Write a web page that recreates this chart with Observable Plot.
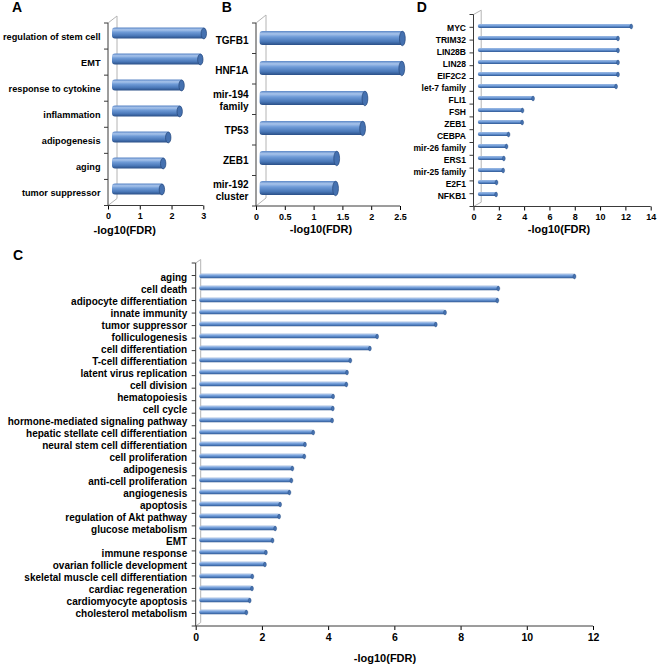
<!DOCTYPE html>
<html><head><meta charset="utf-8">
<script src="https://cdn.jsdelivr.net/npm/d3@7"></script>
<script src="https://cdn.jsdelivr.net/npm/@observablehq/plot@0.6"></script>
<style>
body{margin:0;background:#fff;}
#root{position:relative;width:658px;height:664px;overflow:hidden;font-family:'Liberation Sans',Arial,sans-serif;font-weight:bold;color:#000;}
.panel{position:absolute;}
.panel svg{overflow:visible;}
.lbl{position:absolute;font-size:14px;line-height:14px;}
.ttl{position:absolute;font-size:11px;line-height:11px;transform:translate(-50%,-50%);white-space:nowrap;}
</style></head><body><div id="root"></div>
<script>
// ---- Panel A ----
const aCategories = ["regulation of stem cell","EMT","response to cytokine","inflammation","adipogenesis","aging","tumor suppressor"];
const aValues = [2.96,2.85,2.26,2.20,1.84,1.68,1.64];
const aTicks = [0,1,2,3];
// ---- Panel B ----
const bCategories = ["TGFB1","HNF1A","mir-194\nfamily","TP53","ZEB1","mir-192\ncluster"];
const bValues = [2.52,2.51,1.87,1.83,1.38,1.36];
const bTicks = [0,0.5,1,1.5,2,2.5];
// ---- Panel D ----
const dCategories = ["MYC","TRIM32","LIN28B","LIN28","EIF2C2","let-7 family","FLI1","FSH","ZEB1","CEBPA","mir-26 family","ERS1","mir-25 family","E2F1","NFKB1"];
const dValues = [12.2,11.15,11.15,11.15,11.15,11.0,4.44,3.6,3.58,2.5,2.34,2.13,2.08,1.55,1.52];
const dTicks = [0,2,4,6,8,10,12,14];
// ---- Panel C ----
const cCategories = ["aging","cell death","adipocyte differentiation","innate immunity","tumor suppressor","folliculogenesis","cell differentiation","T-cell differentiation","latent virus replication","cell division","hematopoiesis","cell cycle","hormone-mediated signaling pathway","hepatic stellate cell differentiation","neural stem cell differentiation","cell proliferation","adipogenesis","anti-cell proliferation","angiogenesis","apoptosis","regulation of Akt pathway","glucose metabolism","EMT","immune response","ovarian follicle development","skeletal muscle cell differentiation","cardiac regeneration","cardiomyocyte apoptosis","cholesterol metabolism"];
const cValues = [11.36,9.06,9.03,7.45,7.17,5.40,5.18,4.59,4.49,4.47,4.07,4.06,4.04,3.47,3.22,3.20,2.84,2.81,2.75,2.47,2.44,2.32,2.24,2.04,2.01,1.63,1.62,1.55,1.45];
const cTicks = [0,2,4,6,8,10,12];
const axisTitle = "-log10(FDR)";

const NS = "http://www.w3.org/2000/svg";
function ellipseSymbol(ratio){
  return {draw(ctx, size){
    const ry = Math.sqrt(size/Math.PI), rx = ry*ratio, k = 0.5523;
    ctx.moveTo(rx,0);
    ctx.bezierCurveTo(rx,k*ry,k*rx,ry,0,ry);
    ctx.bezierCurveTo(-k*rx,ry,-rx,k*ry,-rx,0);
    ctx.bezierCurveTo(-rx,-k*ry,-k*rx,-ry,0,-ry);
    ctx.bezierCurveTo(k*rx,-ry,rx,-k*ry,rx,0);
    ctx.closePath();
  }};
}
function el(tag, attrs){ const e = document.createElementNS(NS, tag); for (const k in attrs) e.setAttribute(k, attrs[k]); return e; }

function panel(cfg){
  const data = cfg.cats.map((c,i)=>({cat:c, v:cfg.vals[i]}));
  const n = data.length;
  const capRx = cfg.capR*cfg.capRatio;
  const plot = Plot.plot({
    width: cfg.width, height: cfg.height,
    marginLeft: cfg.ml, marginRight: cfg.mr, marginTop: cfg.mt, marginBottom: cfg.mb,
    style: {fontFamily:"'Liberation Sans', Arial, sans-serif", fontWeight:"bold", fontSize: cfg.tickFont+"px", color:"#000", background:"transparent", overflow:"visible"},
    x: {domain:[0,cfg.max], ticks: cfg.ticks, tickSize:4, tickPadding:3, tickFormat: d=>String(d), label:null},
    y: {domain: cfg.cats, padding:0, axis:null},
    marks: [
      Plot.barX(data, {x:"v", y:"cat", fill:`url(#${cfg.id})`, insetTop:cfg.inset, insetBottom:cfg.inset, dx:cfg.bdx, dy:cfg.bdy, rx:cfg.rx}),
      Plot.dot(data, {x:"v", y:"cat", r:cfg.capR, symbol: ellipseSymbol(cfg.capRatio), fill:"#4571b0", stroke:"#27487a", strokeWidth:cfg.capStroke, dx:cfg.bdx-capRx, dy:cfg.bdy}),
      Plot.text(data, {y:"cat", text:"cat", frameAnchor:"left", textAnchor:"end", dx:-cfg.gap, dy:cfg.ldy||0, fontSize:cfg.labelFont, fontWeight:"bold", lineHeight:1.2, fill:"#000"})
    ]
  });
  const xs = plot.scale("x"), ys = plot.scale("y");
  const x0 = xs.apply(0), x1 = xs.apply(cfg.max);
  const yTop = Math.min(...ys.range), yBot = Math.max(...ys.range);
  const step = (yBot-yTop)/n;
  const defs = el("defs",{});
  const g = el("linearGradient",{id:cfg.id,x1:0,y1:0,x2:0,y2:1});
  [["0%","#5a86c6"],["20%","#a8c4eb"],["42%","#6f9bd7"],["75%","#4a78b8"],["100%","#2a4f87"]].forEach(([o,c])=>g.appendChild(el("stop",{offset:o,"stop-color":c})));
  defs.appendChild(g);
  plot.insertBefore(defs, plot.firstChild);
  const back = el("g",{stroke:"#b4b4b4","stroke-width":1,fill:"none"});
  const wx = x0+cfg.wdx;
  back.appendChild(el("path",{d:`M${x0},${yTop}L${wx},${yTop+cfg.wdy}L${wx},${yBot+cfg.wdy}L${x0},${yBot}`}));
  const firstMark = [...plot.children].find(c=>c.tagName==="g");
  plot.insertBefore(back, firstMark);
  const front = el("g",{stroke:"#3a3a3a","stroke-width":1,fill:"none"});
  front.appendChild(el("path",{d:`M${x0},${yTop}L${x0},${yBot}L${x1},${yBot}`}));
  let d = "";
  for (let i=0;i<=n;i++){ const y = yTop+i*step; d += `M${x0-4},${y}L${x0},${y}`; }
  front.appendChild(el("path",{d}));
  plot.appendChild(front);
  const div = document.createElement("div");
  div.className = "panel";
  div.style.left = cfg.left+"px"; div.style.top = cfg.top+"px";
  div.appendChild(plot);
  document.getElementById("root").appendChild(div);
}
function addText(cls, txt, left, top){
  const d = document.createElement("div"); d.className = cls; d.textContent = txt;
  d.style.left = left+"px"; d.style.top = top+"px";
  document.getElementById("root").appendChild(d);
}

panel({id:"gA", cats:aCategories, vals:aValues, ticks:aTicks, max:3, left:0, top:0, width:212, height:226,
  ml:108, mr:8.7, mt:23, mb:20.5, inset:7.6, bdx:4, bdy:-3, rx:3, capR:5.4, capRatio:0.5, capStroke:0.7, wdx:9, wdy:-7,
  gap:8, labelFont:9.2, tickFont:9});
panel({id:"gB", cats:bCategories, vals:bValues, ticks:bTicks, max:2.5, left:212, top:0, width:200, height:226,
  ml:44, mr:12, mt:23, mb:20, inset:8, bdx:3.6, bdy:-2, rx:3, capR:7.2, capRatio:0.4, capStroke:0.7, wdx:10, wdy:-8,
  gap:8, labelFont:10, tickFont:9});
panel({id:"gD", cats:dCategories, vals:dValues, ticks:dTicks, max:14, left:410, top:0, width:248, height:226,
  ml:63.5, mr:7.3, mt:14.5, mb:19.5, inset:3.9, bdx:4.3, bdy:-1, rx:2, capR:2.4, capRatio:0.6, capStroke:0.4, wdx:7.7, wdy:-4.3,
  gap:8, labelFont:8.5, tickFont:9});
panel({id:"gC", cats:cCategories, vals:cValues, ticks:cTicks, max:12, left:0, top:245, width:658, height:419,
  ml:195.7, mr:65, mt:18, mb:38, inset:3.7, bdx:3.6, bdy:-1, rx:2, capR:2.4, capRatio:0.6, capStroke:0.4, wdx:5, wdy:-3.5,
  gap:9, labelFont:10, tickFont:10.5});

addText("lbl","A",12,0);
addText("lbl","B",221.7,0);
addText("lbl","D",416.7,0);
addText("lbl","C",13,248);
addText("ttl",axisTitle,124.7,230);
addText("ttl",axisTitle,321,229);
addText("ttl",axisTitle,559,229);
addText("ttl",axisTitle,385,658);
</script></body></html>
